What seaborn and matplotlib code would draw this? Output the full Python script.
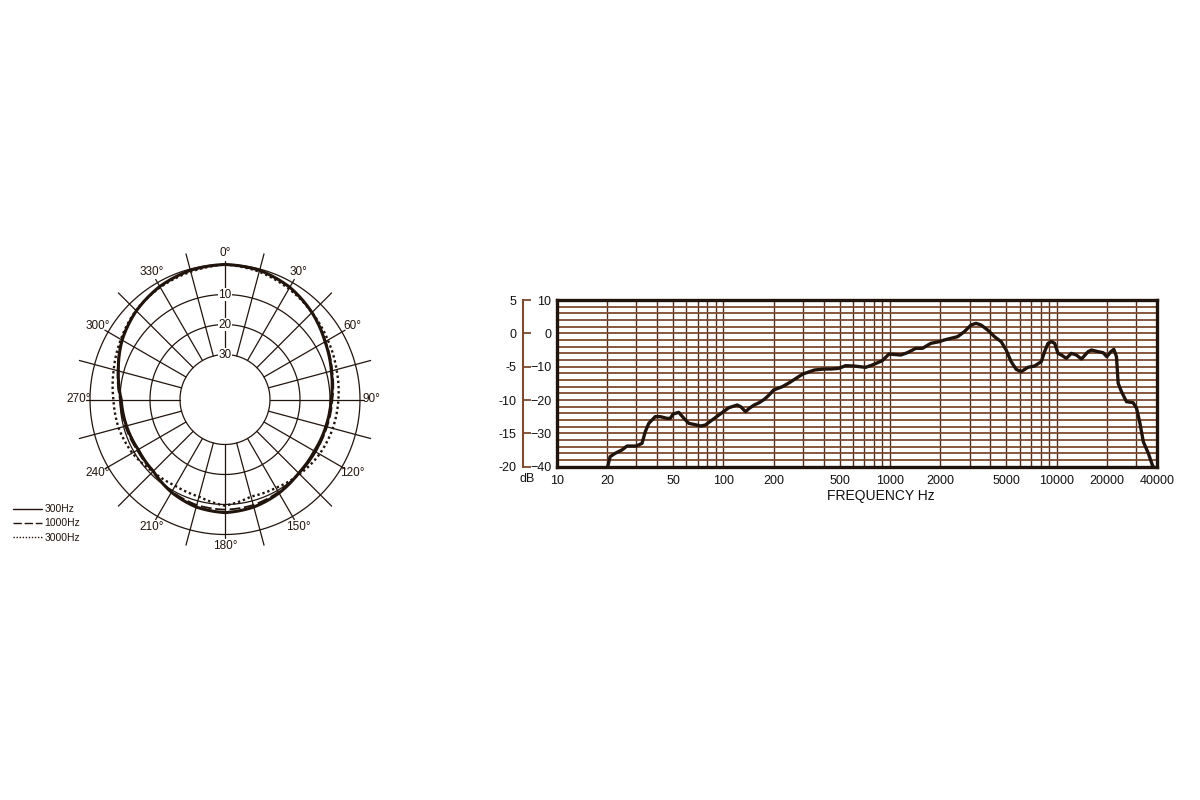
import numpy as np
import matplotlib
matplotlib.use("Agg")
import matplotlib.pyplot as plt
import seaborn as sns

# polar pattern (dB relative to 0 deg), read every 15 degrees
angles = [0, 15, 30, 45, 60, 75, 90, 105, 120, 135, 150, 165,
          180, 195, 210, 225, 240, 255, 270, 285, 300, 315, 330, 345]
pattern_300 = [0, -0.4, -1.8, -4.0, -6.5, -8.3, -9.6, -10.2, -10.6, -10.3, -9.0, -7.9,
               -7.3, -7.9, -9.3, -11.2, -11.6, -11.0, -10.4, -8.2, -5.4, -3.2, -1.5, -0.4]
pattern_1000 = [0, -0.5, -1.9, -4.0, -6.3, -8.0, -9.2, -9.8, -10.2, -10.2, -9.4, -8.6,
                -8.3, -8.6, -9.6, -11.0, -11.2, -10.6, -10.0, -8.0, -5.3, -3.2, -1.6, -0.5]
pattern_3000 = [0, -0.9, -2.4, -4.0, -5.4, -6.5, -7.2, -7.8, -8.6, -9.8, -11.0, -11.5,
                -9.6, -11.5, -11.8, -11.0, -9.3, -8.3, -7.8, -6.6, -4.9, -3.0, -1.8, -0.9]
angle_labels = [0, 30, 60, 90, 120, 150, 180, 210, 240, 270, 300, 330]
rings = [0, -10, -20, -30]

# frequency response
freq_hz = [20, 20.9, 22.4, 24.6, 26.4, 30, 32.5, 34, 35.7, 39, 41.9, 46, 48, 50, 54, 58,
           62, 66.5, 73, 78, 84, 90, 100, 108, 121, 127, 136, 143, 153, 164, 176, 188,
           200, 226, 249, 273, 300, 352, 403, 441, 493, 541, 607, 713, 783, 899, 986,
           1160, 1272, 1428, 1566, 1758, 1973, 2113, 2545, 2793, 3063, 3283, 3517, 3857,
           4234, 4645, 4977, 5334, 5717, 6126, 6718, 7365, 8086, 8467, 8870, 9290, 9730,
           10190, 10670, 11430, 12250, 13130, 14080, 15440, 16170, 17730, 19000, 20000,
           21140, 22030, 22850, 23390, 24490, 26240, 28770, 30170, 31620, 33100, 35500,
           37500, 38500]
response_db = [-41, -37, -36, -35, -33.8, -33.8, -33, -29.5, -27, -25, -25, -25.5, -25.5,
               -24.2, -23.7, -25.5, -27, -27.3, -27.8, -27.5, -26.3, -25.2, -23.5, -22.3,
               -21.5, -22, -23.5, -22.5, -21.5, -20.8, -19.8, -18.5, -17, -16, -14.8, -13.5,
               -12.2, -11, -10.7, -10.7, -10.5, -9.7, -9.8, -10.2, -9.5, -8.2, -6.2, -6.5,
               -5.8, -4.5, -4.5, -3, -2.5, -2, -1, 0.5, 2.5, 3, 2.5, 1, -1, -2.5, -5, -8.5,
               -10.8, -11.5, -10.2, -9.8, -8.5, -5.5, -3, -2.5, -3, -6, -6.5, -7.5, -6, -6.5,
               -7.7, -5.5, -5, -5.5, -5.8, -7, -5.5, -4.8, -7, -15, -17.5, -20.5, -20.8,
               -22.5, -27, -32.5, -36, -39.5, -40.5]
freq_ticks = [10, 20, 50, 100, 200, 500, 1000, 2000, 5000, 10000, 20000, 40000]
db_ticks = [-40, -30, -20, -10, 0, 10]
db_ticks_alt = [-20, -15, -10, -5, 0, 5]

sns.set_theme(style="white")
plt.rcParams['font.family'] = ['Liberation Sans', 'DejaVu Sans']

ink = "#21140d"
brown_h = "#7d4b2e"
brown_v = "#4d2e1c"

fig = plt.figure(figsize=(12, 8), dpi=100)

# ---- polar pattern ----
R = 3.0  # px per dB
rmax = 5.5
rad = R * (45 + rmax)
pax = fig.add_axes([(225 - rad) / 1200, (400.5 - rad) / 800, 2 * rad / 1200, 2 * rad / 800],
                   projection='polar')
pax.set_theta_zero_location('N')
pax.set_theta_direction(-1)
pax.set_ylim(-45, rmax)
pax.grid(False)
pax.set_xticks([])
pax.set_yticks([])
pax.spines['polar'].set_visible(False)
pax.patch.set_alpha(0)

full = np.linspace(0, 2 * np.pi, 361)
for r in rings:
    pax.plot(full, [r] * len(full), color=ink, lw=0.9)
for a in range(0, 360, 15):
    end = 1.2 if a % 30 == 0 else 5.3
    pax.plot([np.deg2rad(a)] * 2, [-30, end], color=ink, lw=0.9)
for a in angle_labels:
    pax.text(np.deg2rad(a), 3.9, f"{a}°", ha='center', va='center', fontsize=8.5, color=ink)
for r in rings[1:]:
    pax.text(0, r, str(-r), ha='center', va='center', fontsize=8.5, color=ink, zorder=5,
             bbox=dict(fc='white', ec='none', pad=0.6))

theta = np.deg2rad(angles + [360])
n_before = len(pax.lines)
sns.lineplot(x=theta, y=pattern_300 + pattern_300[:1], ax=pax, sort=False,
             color=ink, lw=2.2, label='300Hz', legend=False)
sns.lineplot(x=theta, y=pattern_1000 + pattern_1000[:1], ax=pax, sort=False,
             color=ink, lw=1.3, ls=(0, (6, 2)), label='1000Hz', legend=False)
sns.lineplot(x=theta, y=pattern_3000 + pattern_3000[:1], ax=pax, sort=False,
             color=ink, lw=1.7, ls=(0, (1, 1.2)), label='3000Hz', legend=False)
# let the polar transform bend segments between the read points
for ln in pax.lines[n_before:]:
    ln.get_path()._interpolation_steps = 16
    ln.set_data(*ln.get_data())

h, l = pax.get_legend_handles_labels()
fig.legend(h, l, loc='upper left', bbox_to_anchor=(8 / 1200, 1 - 499 / 800), frameon=False,
           fontsize=7.5, handlelength=2.8, handletextpad=0.2, labelspacing=0.4,
           labelcolor=ink, borderpad=0)
for lh in fig.legends[0].get_lines():
    lh.set_linewidth(1.0)

# ---- frequency response ----
ax = fig.add_axes([556.7 / 1200, (800 - 466.7) / 800, 600.3 / 1200, 166.7 / 800])
ax.set_xscale('log')
minor_x = [m * 10 ** e for e in range(1, 5) for m in range(1, 10)
           if 10 <= m * 10 ** e <= 40000 and m * 10 ** e not in freq_ticks]
ax.set_xticks(freq_ticks)
ax.set_xticklabels([str(f) for f in freq_ticks])
ax.set_xticks(minor_x, minor=True)
ax.set_yticks(db_ticks)
ax.set_yticks(list(range(-40, 11, 2)), minor=True)
ax.set_xlim(10, 40000)
ax.set_ylim(-40, 10)
ax.grid(which='both', axis='x', color=brown_v, lw=1.0)
ax.grid(which='both', axis='y', color=brown_h, lw=1.3)
ax.tick_params(which='both', length=0, labelsize=9, labelcolor='#111111')
ax.tick_params(axis='x', pad=6)
ax.tick_params(axis='y', pad=4)
for s in ax.spines.values():
    s.set_color(ink)
    s.set_linewidth(2.4)

sns.lineplot(x=freq_hz, y=response_db, ax=ax, sort=False, color=ink, lw=2.4)

sec = ax.secondary_yaxis(-0.0566, functions=(lambda y: y / 2, lambda y: y * 2))
sec.set_yticks(db_ticks_alt)
sec.set_yticklabels([str(v) for v in db_ticks_alt])
sec.tick_params(direction='in', length=6, width=1.3, color=brown_h, pad=4.5,
                labelsize=9, labelcolor='#111111')
sec.spines['left'].set_color(brown_h)
sec.spines['left'].set_linewidth(1.5)

ax.text(-0.049, -0.074, 'dB', transform=ax.transAxes, ha='center', va='center',
        fontsize=9, color='#111111')
ax.text(0.54, -0.175, 'FREQUENCY Hz', transform=ax.transAxes, ha='center', va='center',
        fontsize=10, color='#111111')

fig.savefig("out.png", dpi=100, facecolor='white')
